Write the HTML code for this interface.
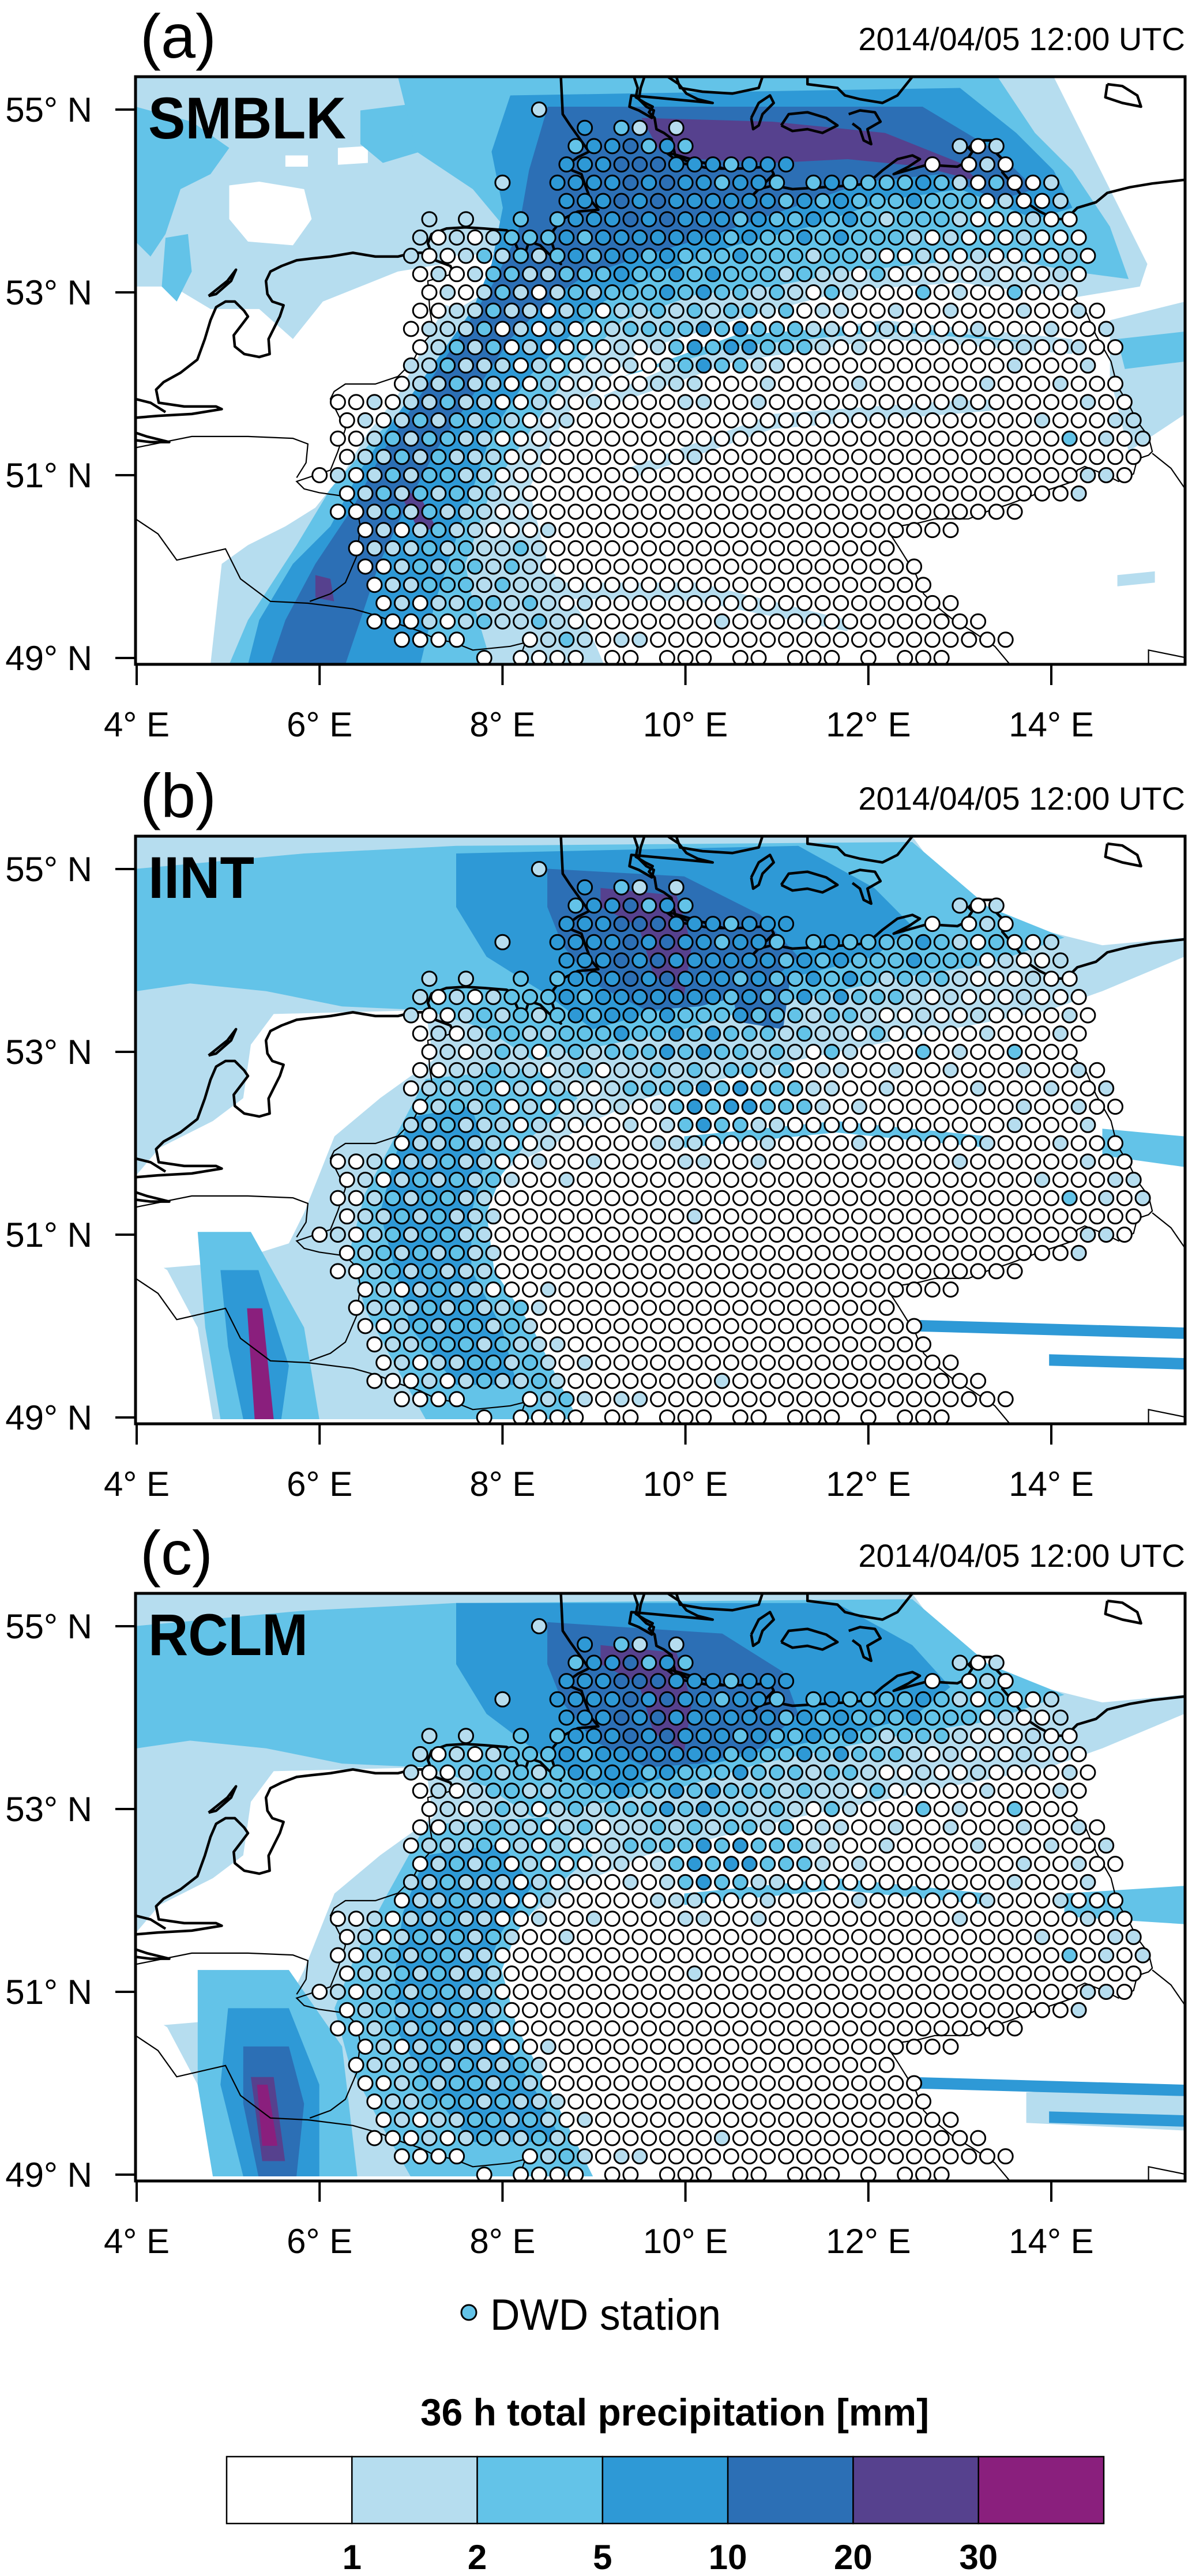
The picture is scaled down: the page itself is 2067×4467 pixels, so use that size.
<!DOCTYPE html>
<html><head><meta charset="utf-8"><style>
html,body{margin:0;padding:0;background:#fff}
svg{display:block}
text{font-family:"Liberation Sans",sans-serif}
</style></head><body>
<svg id="fig" width="2067" height="4467" viewBox="0 0 2067 4467" xmlns="http://www.w3.org/2000/svg">
<g>
<circle cx="813" cy="4010" r="13" fill="#63c3e8" stroke="#000" stroke-width="3"/>
<text x="850" y="4040" font-size="76" textLength="400" lengthAdjust="spacingAndGlyphs">DWD station</text>
</g>
<text x="729" y="4206" font-size="66" font-weight="bold" textLength="882" lengthAdjust="spacingAndGlyphs">36 h total precipitation [mm]</text>
<g id="colorbar"></g>
</svg>
<script>
// ---- data ----
const binColors = ['#ffffff','#b6ddef','#63c3e8','#2e99d6','#2c6fb5','#56418e','#8a1f7d'];
const binLabels = ['1','2','5','10','20','30'];
const latTicks = [55,53,51,49];
const lonTicks = [4,6,8,10,12,14];
const panelLabels = ['(a)','(b)','(c)'];
const modelNames = ['SMBLK','IINT','RCLM'];
const timeStamp = '2014/04/05 12:00 UTC';
// station rows: [lat, start column, pattern]; column lon = 6.0 + i*0.2 ; char = observed bin, '.' none
const stationRows = [
[55.0,12,"1"],[54.8,14,"3.21.1"],[54.6,14,"2334232"],[54.6,35,"101"],
[54.4,13,"3334443332333"],[54.4,33,"0.010"],
[54.2,10,"1..3333434332332.23222232102001"],
[54.0,13,"3334343333332323222322201001"],
[53.8,6,"1.1..2.23334343332322323212221000100"],
[53.6,5,"1010122232333333323223232221010001000"],
[53.4,5,"10012121232332322232221221001001000010"],
[53.2,5,"0101221122232232322212110200000100010"],
[53.0,6,"010121012122232322121021000201002000"],
[52.8,5,"00112110120112121221201100100100010010"],
[52.6,5,"011120101001222232322211001000010001001"],
[52.4,5,"012120100001012323322210100000000100100"],
[52.2,5,"11211101000010123221100000000000010001"],
[52.0,4,"0112110010000011100010000100000010001000"],
[51.8,1,"00101121100100100001100100000000001000000100"],
[51.6,1,"01012121210010000000000000000000000000100011"],
[51.4,1,"001212211000000000000000000000000000000020101"],
[51.2,1,"01121211100000000001000000000000000000000000"],
[51.0,0,"010121221100000000000000000000000000000000110"],
[50.8,1,"01212121100000000000000000000000000000001"],
[50.6,1,"00121211100000000000000000000000000000"],
[50.4,2,"010121100010000000000000000000000"],
[50.2,2,"011121211210000000000000000000"],
[50.0,2,"0012122121000000000000000000000"],
[49.8,3,"0112221211100000000000000000000"],
[49.6,3,"01011221210100000000000000000000"],
[49.4,3,"0001012112100000000100000000000000"],
[49.2,4,"0000...012101100000000000000000000"],
[49.0,9,"0.0000.00.000.00.000.0.000"]
];
// panel (a) precipitation areas [bin, polygon in map-grid units]
const fieldA = [
[1,[0,0,2450,0,2500,100,2600,300,2700,500,2680,560,2500,590,2200,550,1900,570,1600,650,1350,730,1150,900,1050,1100,1100,1300,1200,1450,1250,1568,200,1568,230,1300,300,1250,400,1200,480,1150,560,1050,620,950,700,850,780,700,850,560,820,500,700,520,600,560,500,600,420,700,330,620,200,620,100,560,0,560]],
[0,[250,290,330,280,450,300,470,380,420,450,300,440,250,380]],[0,[540,190,620,185,620,230,540,235]],[0,[400,210,460,210,460,240,400,240]],[0,[820,480,980,470,960,560,860,620,800,600]],
[2,[0,80,150,120,250,190,200,260,120,300,80,420,40,480,0,440]],
[2,[80,430,140,420,150,520,110,600,70,560]],
[2,[600,90,760,70,860,120,760,200,660,230,600,180]],
[2,[700,0,2300,0,2400,150,2500,250,2600,400,2650,540,2500,520,2300,480,2100,500,1900,520,1700,560,1500,580,1300,650,1150,800,1050,950,950,1100,880,1300,900,1400,950,1568,250,1568,300,1450,430,1250,520,1100,650,950,800,800,950,600,1000,420,900,300,750,200]],
[1,[1250,850,1600,700,2000,650,2500,700,2500,740,2000,700,1600,760,1260,880]],
[2,[1300,800,1600,690,2000,660,2400,710,2000,680,1600,720]],
[1,[1300,1050,1700,900,2100,870,2300,860,2300,890,1700,940,1300,1080]],
[1,[2600,650,2801,600,2801,900,2650,1000,2600,800]],
[2,[2620,700,2801,680,2801,760,2640,780]],
[1,[1000,1350,1500,1350,1900,1450,1900,1480,1500,1400,1000,1390]],
[1,[2620,1330,2720,1320,2720,1350,2620,1360]],
[3,[1000,50,2200,30,2350,150,2450,250,2500,350,2400,380,2200,300,2000,330,1800,400,1600,450,1400,520,1250,600,1150,700,1050,800,950,950,900,1100,850,1250,800,1400,760,1568,300,1568,330,1450,420,1300,520,1200,600,1050,700,900,800,760,900,620,950,500,980,350,950,200]],
[4,[1100,80,2100,80,2300,200,2400,300,2300,330,2150,260,1950,280,1750,350,1550,420,1350,480,1200,530,1100,600,1000,700,900,850,800,1000,720,1150,650,1300,600,1450,560,1568,360,1568,400,1450,480,1300,580,1150,660,1000,760,850,860,700,950,560,1020,420,1050,250]],
[5,[1350,110,1700,120,2000,150,2200,230,2250,280,2100,240,1900,220,1700,230,1500,220,1400,200]],
[5,[700,1100,760,1120,800,1200,760,1220]],[5,[480,1330,520,1340,530,1400,480,1390]]
];
// panels (b),(c) areas in secondary grid units
const fieldB = [
[1,[180,15,1200,15,1250,150,1350,250,1450,300,1558,280,1558,330,1450,420,1380,470,1250,520,1150,560,1050,600,950,650,850,700,780,760,720,830,650,900,600,1000,560,1100,560,1250,600,1400,640,1540,280,1540,260,1300,220,1150,180,1100]],
[0,[360,480,560,470,570,600,500,700,440,800,420,900,400,1000,380,1080,300,1130,180,1150,180,900,210,830,280,760,320,700,330,560]],
[2,[180,100,400,60,600,40,1200,30,1300,200,1400,280,1300,350,1200,380,1100,420,1000,460,900,520,800,560,700,600,640,520,560,470,450,460,350,420,250,400,180,420]],
[2,[560,650,700,620,760,700,700,800,660,900,640,1000,650,1150,700,1300,760,1540,560,1540,520,1400,480,1250,460,1100,480,950,520,800]],
[2,[260,1050,330,1050,400,1300,420,1540,290,1540,270,1300]],
[2,[1450,780,1558,800,1558,880,1450,850]],
[2,[900,800,1100,760,1300,800,1300,830,1100,790,900,830]],
[3,[600,60,1050,40,1150,150,1200,250,1150,330,1050,380,950,430,850,480,780,520,720,430,640,330,600,200]],
[3,[540,750,620,720,640,850,620,1000,620,1150,660,1300,680,1450,600,1450,540,1300,520,1150,500,1000,520,850]],
[3,[290,1150,340,1150,380,1400,370,1540,320,1540,300,1350]],
[3,[1200,1280,1558,1300,1558,1330,1200,1310]],[3,[1380,1370,1558,1380,1558,1410,1380,1400]],
[4,[720,100,900,120,1000,220,1050,330,1000,420,920,460,850,470,780,400,740,300,720,200]],
[4,[960,380,1040,380,1030,520,970,500]],
[5,[790,150,890,170,910,300,900,430,860,380,840,250,790,200]],
[6,[325,1250,345,1250,360,1540,335,1540]]
];
const fieldC = [
[1,[180,15,1200,15,1250,150,1350,250,1450,300,1558,280,1558,330,1450,420,1380,470,1250,520,1150,560,1050,600,950,650,850,700,780,760,720,830,650,900,600,1000,560,1100,560,1250,600,1400,640,1540,280,1540,260,1300,220,1150,180,1100]],
[0,[360,480,560,470,570,600,500,700,440,800,420,900,400,1000,380,1080,300,1130,180,1150,180,900,210,830,280,760,320,700,330,560]],
[2,[180,100,400,60,600,40,1200,30,1300,200,1400,280,1300,350,1200,380,1100,420,1000,460,900,520,800,560,700,600,640,520,560,470,450,460,350,420,250,400,180,420]],
[2,[560,620,720,600,780,700,720,800,680,900,660,1000,680,1150,720,1300,780,1540,540,1540,500,1400,460,1250,440,1100,470,950,510,800]],
[2,[260,1000,380,1000,450,1200,470,1540,280,1540,260,1300]],
[2,[1400,800,1558,780,1558,880,1400,860]],
[2,[900,800,1100,760,1300,800,1300,830,1100,790,900,830]],
[1,[1350,1320,1558,1300,1558,1420,1350,1400]],
[3,[600,40,1100,40,1200,150,1250,260,1200,340,1100,390,1000,430,900,480,800,540,720,450,640,330,600,200]],
[3,[560,700,660,670,700,780,660,900,640,1000,650,1150,700,1300,740,1450,620,1450,560,1300,520,1150,520,1000,530,850]],
[3,[300,1100,380,1100,420,1300,420,1540,320,1540,290,1300]],
[3,[1200,1280,1558,1300,1558,1330,1200,1310]],[3,[1380,1370,1558,1380,1558,1410,1380,1400]],
[4,[720,90,950,120,1030,220,1050,330,1000,420,920,460,850,470,780,400,740,300,720,200]],
[4,[320,1200,380,1200,400,1350,390,1540,340,1540,320,1350]],
[5,[790,150,890,170,910,300,900,430,860,380,840,250,790,200]],
[5,[330,1280,360,1280,375,1500,345,1500]],
[6,[338,1300,352,1300,365,1460,345,1460]]
];
const fields = [fieldA, fieldB, fieldC];
const fieldGrid = ['k','z','z'];
// geography in map-grid units (left part x 0..1568, right part given with +1233)
const R=1233;
const coastLines = [
[850,525,840,505,800,490,780,470,740,470,700,480,640,480,580,470,520,480,470,485,430,490,390,505,360,520,348,545,352,580,365,600,395,610,385,640,370,670,355,700,358,740,330,748,290,740,265,720,262,690,285,660,300,640,290,625,265,600,240,600,215,615,200,650,185,700,165,755,120,790,75,815,55,835,62,870,130,880,215,880,230,887,150,900,60,905,0,910],
[0,860,40,870,80,895],[0,950,30,960,90,975,40,975,0,970],
[195,585,245,545,268,515,255,545,215,580,195,585],
[790,470,780,445,790,420,830,405,880,402,930,405,990,410,1000,415,1020,460,1040,470,1050,440,1080,450,1100,470,1135,500,1120,470,1110,440,1115,410,1140,380,1180,360,1235,355,1215,330,1200,290,1190,260,1165,250,1145,240,1180,215,1210,200,1160,130,1140,100,1135,0],
[1330,0,1340,30,1335,55,1360,70,1380,80,1370,95,1385,110,1390,140,1410,150,1430,165,1440,210,1470,225,1520,230,1568,245,180+R,200,220+R,230,300+R,245,380+R,245,460+R,240,470+R,260,430+R,300,410+R,320,395+R,345],
[400+R,330,430+R,300,470+R,290,520+R,300,600+R,295,680+R,290,720+R,285,760+R,250,800+R,220,840+R,210,860+R,220,830+R,240,790+R,260,880+R,235,960+R,240,980+R,230,1000+R,200,990+R,190,1010+R,170,1060+R,170,1060+R,200,1080+R,220,1100+R,240,1080+R,255,1110+R,290,1150+R,340,1180+R,360,1220+R,380,1250+R,380,1280+R,350,1330+R,335,1360+R,310,1420+R,295,1480+R,285,1568+R,275],
[1420,0,1450,20,1470,45,1500,60,1540,70,90+R,50,85+R,80,110+R,90,145+R,110,150+R,90,130+R,80,110+R,60,115+R,30,125+R,0],
[210+R,0,220+R,30,280+R,40,360+R,45,430+R,30,440+R,0],
[410+R,110,430+R,70,460+R,50,470+R,70,440+R,100,430+R,130,415+R,140,410+R,110],
[490+R,130,510+R,100,560+R,95,610+R,110,640+R,130,600+R,150,560+R,140,520+R,145,490+R,130],
[670+R,100,700+R,90,740+R,95,755+R,120,720+R,140,730+R,180,710+R,170,700+R,140,680+R,125],
[560+R,0,560+R,20,640+R,30,660+R,50,700+R,60,760+R,70,800+R,50,840+R,0],
[1360+R,20,1400+R,25,1440+R,50,1450+R,80,1400+R,70,1355+R,55,1360+R,20]
];
const borderLines = [
[850,525,780,545,785,620,795,680,760,720,740,760,700,800,640,820,560,820,530,840,520,860,540,900,560,940,540,1000,520,1050,430,1080,450,1100,490,1110,560,1120,590,1150,600,1200,590,1280,560,1350,520,1380,465,1400],
[0,990,150,960,300,960,420,965,460,980,455,1030,430,1070],
[0,1180,60,1220,110,1290,240,1260,280,1340,360,1400,460,1405,580,1420,650,1440,700,1460,760,1480,800,1500,850,1510,900,1530,1000,1520,1040,1510,1020,1568],
[1250+R,575,1300+R,620,1330+R,690,1370+R,760,1380+R,800,1390+R,830,1420+R,880,1440+R,920,1470+R,960,1480+R,1000,1470+R,1010,1440+R,1020,1430+R,1060,1390+R,1080,1350+R,1060,1300+R,1040,1280+R,1050,1270+R,1080,1240+R,1090,1180+R,1110,1100+R,1140,1040+R,1160,990+R,1180,900+R,1180,860+R,1190,800+R,1200,780+R,1220,800+R,1250,850+R,1330,870+R,1380,900+R,1410,950+R,1450,1000+R,1480,1060+R,1520,1100+R,1568],
[1480+R,1005,1530+R,1045,1568+R,1100],
[1470+R,1568,1470+R,1530,1568+R,1550]
];
// ---- layout ----
const NS='http://www.w3.org/2000/svg';
const svg=document.getElementById('fig');
const panelTops=[133,1450,2763];
const FL=235, FR=2055, FH=1019, KS=1.5388;
function X(lon){return 237+(lon-4)*158.6;}
function Y(lat,top){return top+57+(55-lat)*158.5;}
function mk(tag,attrs,parent){const e=document.createElementNS(NS,tag);for(const k in attrs)e.setAttribute(k,attrs[k]);(parent||svg).appendChild(e);return e;}
function pts(arr,top,grid){let s=[];for(let i=0;i<arr.length;i+=2){let kx=arr[i],ky=arr[i+1];if(grid==='z'){kx=kx*2.0285-361.6;ky=ky*1.02-15;}s.push((FL+kx/KS).toFixed(1)+','+(top+ky/KS).toFixed(1));}return s.join(' ');}

panelTops.forEach((top,p)=>{
  const g=mk('g',{});
  
  
  const cp=mk('clipPath',{id:'clip'+p},g);
  mk('rect',{x:FL,y:top,width:FR-FL,height:FH},cp);
  const inner=mk('g',{'clip-path':'url(#clip'+p+')'},g);
  fields[p].forEach(([bin,poly])=>{
    const e=mk('polygon',{points:pts(poly,top,fieldGrid[p]),fill:binColors[bin]},inner);
    
    
  });
  coastLines.forEach(l=>{
    const e=mk('polyline',{points:pts(l,top,'k'),fill:'none',stroke:'#000','stroke-width':4.5,'stroke-linejoin':'round'},inner);
    
    
  });
  borderLines.forEach(l=>{
    const e=mk('polyline',{points:pts(l,top,'k'),fill:'none',stroke:'#000','stroke-width':2.2},inner);
    
    
  });
  stationRows.forEach(([lat,start,pat])=>{
    const odd=Math.round((55-lat)/0.2)%2;
    for(let k=0;k<pat.length;k++){
      const c=pat[k]; if(c==='.')continue;
      const lon=6.0+(start+k)*0.2+(odd?0.1:0);
      const e=mk('circle',{cx:X(lon).toFixed(1),cy:Y(lat,top).toFixed(1),r:12.5,fill:binColors[+c],stroke:'#000','stroke-width':3},inner);
      
      
    }
  });
  const fr=mk('rect',{x:FL,y:top,width:FR-FL,height:FH,fill:'none',stroke:'#000','stroke-width':5},g);
  
  
  latTicks.forEach(lat=>{
    const y=Y(lat,top);
    mk('line',{x1:200,y1:y,x2:FL,y2:y,stroke:'#000','stroke-width':4},g);
    const t=mk('text',{x:160,y:y+21,'font-size':60,'text-anchor':'end'},g);
    t.textContent=lat+'° N';
    
    
  });
  lonTicks.forEach(lon=>{
    const x=X(lon);
    mk('line',{x1:x,y1:top+FH,x2:x,y2:top+FH+36,stroke:'#000','stroke-width':4},g);
    const t=mk('text',{x:x,y:top+FH+125,'font-size':60,'text-anchor':'middle'},g);
    t.textContent=lon+'° E';
    
    
  });
  const pl=mk('text',{x:243,y:top-33,'font-size':108},g);
  pl.textContent=panelLabels[p];
  
  
  const ts=mk('text',{x:FR,y:top-46,'font-size':56,'text-anchor':'end'},g);
  ts.textContent=timeStamp;
  
  
  const widths=[343,184,277];
  const mn=mk('text',{x:257,y:top+107,'font-size':102,'font-weight':'bold',textLength:widths[p],lengthAdjust:'spacingAndGlyphs'},g);
  mn.textContent=modelNames[p];
  
  
});
// colorbar
const cb=document.getElementById('colorbar');
const cbL=393, cbW=(1914-393)/binColors.length, cbT=4260, cbH=116;
binColors.forEach((c,i)=>{
  const r=mk('rect',{x:cbL+i*cbW,y:cbT,width:cbW,height:cbH,fill:c,stroke:'#000','stroke-width':2.5},cb);
  
  
});
binLabels.forEach((l,i)=>{
  const t=mk('text',{x:cbL+(i+1)*cbW,y:4455,'font-size':60,'font-weight':'bold','text-anchor':'middle'},cb);
  t.textContent=l;
  
  
});
</script>
</body></html>
